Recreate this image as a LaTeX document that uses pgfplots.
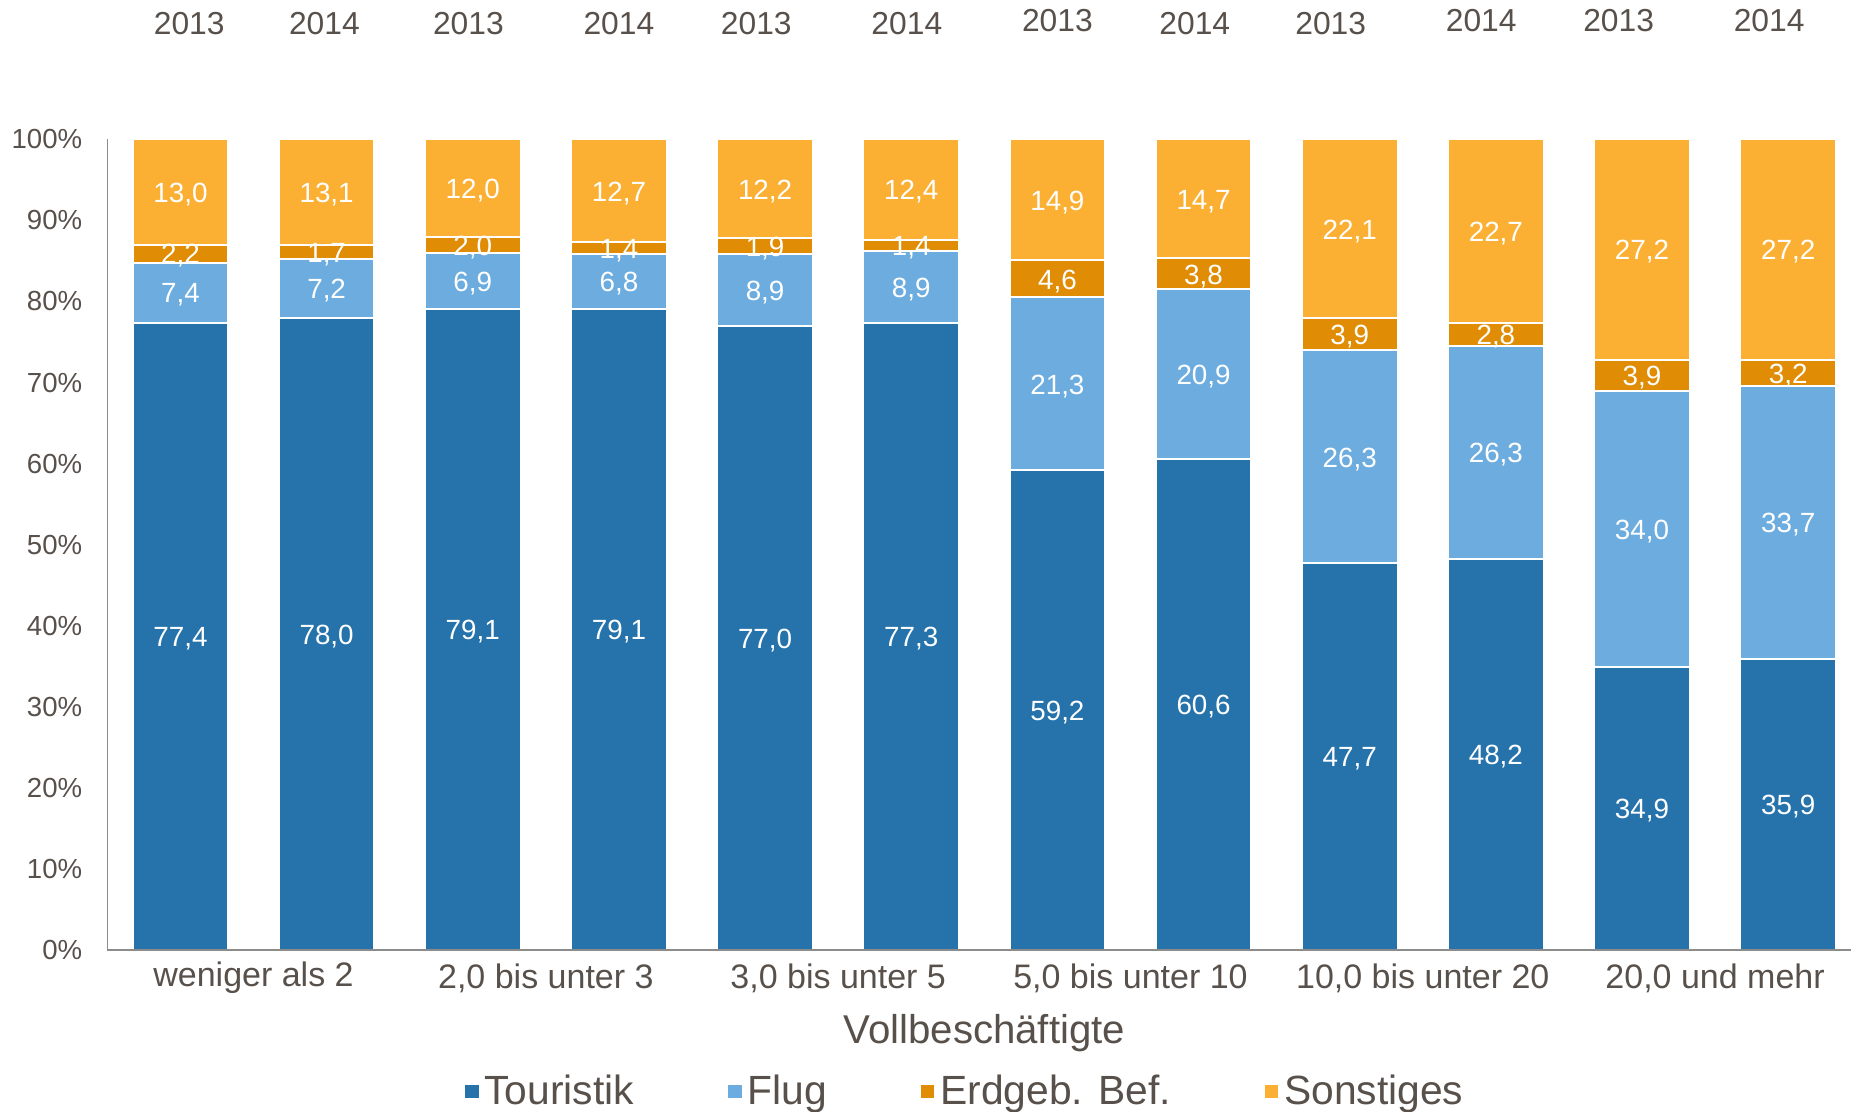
\documentclass[border=0pt]{standalone}
\usepackage{pgfplots}
\pgfplotsset{compat=1.18}
\usepackage{pgfplotstable}
\usepackage{fontspec}
\setmainfont{Liberation Sans}

\definecolor{txtc}{RGB}{88,80,74}
\definecolor{axgray}{RGB}{140,140,140}
\definecolor{cTour}{RGB}{38,115,172}
\definecolor{cFlug}{RGB}{108,172,222}
\definecolor{cErd}{RGB}{224,141,5}
\definecolor{cSon}{RGB}{251,176,52}

% Anteile in Prozent, je Groessenklasse 2013 / 2014
\pgfplotstableread{
x  t    f    e   s
0  77.4 7.4  2.2 13.0
1  78.0 7.2  1.7 13.1
2  79.1 6.9  2.0 12.0
3  79.1 6.8  1.4 12.7
4  77.0 8.9  1.9 12.2
5  77.3 8.9  1.4 12.4
6  59.2 21.3 4.6 14.9
7  60.6 20.9 3.8 14.7
8  47.7 26.3 3.9 22.1
9  48.2 26.3 2.8 22.7
10 34.9 34.0 3.9 27.2
11 35.9 33.7 3.2 27.2
}\data

\tikzset{
  yr/.style={text=txtc, font=\fontsize{15.9bp}{18bp}\selectfont},
  grp/.style={text=txtc, font=\fontsize{17bp}{20bp}\selectfont},
}
\pgfplotsset{
  base/.style={
    at={(0,0)}, anchor=south west, scale only axis,
    width=871.8bp, height=405.35bp,
    xmin=-0.5, xmax=11.43, ymin=0, ymax=100,
  },
}

\begin{document}
\begin{tikzpicture}
\begin{axis}[
    base,
    ybar stacked, bar width=0.654,
    axis on top,
    axis x line=bottom, axis y line=left,
    axis line style={-, draw=axgray, line width=0.8bp},
    xtick=\empty,
    ytick={0,10,...,100},
    yticklabels={0\%,10\%,20\%,30\%,40\%,50\%,60\%,70\%,80\%,90\%,100\%},
    major tick length=0pt,
    yticklabel style={anchor=east, inner sep=0pt, xshift=-12.4bp, text=txtc, font=\fontsize{13.8bp}{16bp}\selectfont},
    legend image code/.code={\fill[#1] (0bp,-3.85bp) rectangle (7.7bp,3.85bp);},
    legend style={at={(0.492,-0.1745)}, anchor=center, draw=none, fill=none,
        legend columns=4, text=txtc, font=\fontsize{20.4bp}{24bp}\selectfont,
        /tikz/every even column/.append style={column sep=44bp}},
    clip=false,
]
\addplot[fill=cTour, draw=white, line width=1bp] table[x=x, y=t] {\data};
\addplot[fill=cFlug, draw=white, line width=1bp] table[x=x, y=f] {\data};
\addplot[fill=cErd, draw=white, line width=1bp] table[x=x, y=e] {\data};
\addplot[fill=cSon, draw=white, line width=1bp] table[x=x, y=s] {\data};
\legend{Touristik, Flug, Erdgeb. Bef., Sonstiges}

\node[yr] at (axis cs:0.06,114.3) {2013};
\node[yr] at (axis cs:0.985,114.3) {2014};
\node[yr] at (axis cs:1.97,114.3) {2013};
\node[yr] at (axis cs:3.00,114.3) {2014};
\node[yr] at (axis cs:3.94,114.3) {2013};
\node[yr] at (axis cs:4.97,114.3) {2014};
\node[yr] at (axis cs:6.00,114.6) {2013};
\node[yr] at (axis cs:6.94,114.3) {2014};
\node[yr] at (axis cs:7.87,114.3) {2013};
\node[yr] at (axis cs:8.90,114.6) {2014};
\node[yr] at (axis cs:9.84,114.6) {2013};
\node[yr] at (axis cs:10.87,114.6) {2014};

\node[grp] at (axis cs:0.5,-3.45) {weniger als 2};
\node[grp] at (axis cs:2.5,-3.45) {2,0 bis unter 3};
\node[grp] at (axis cs:4.5,-3.45) {3,0 bis unter 5};
\node[grp] at (axis cs:6.5,-3.45) {5,0 bis unter 10};
\node[grp] at (axis cs:8.5,-3.45) {10,0 bis unter 20};
\node[grp] at (axis cs:10.5,-3.45) {20,0 und mehr};
\node[text=txtc, font=\fontsize{20.1bp}{24bp}\selectfont] at (axis cs:5.5,-10.3) {Vollbeschäftigte};
\end{axis}

% Wertebeschriftungen in der Mitte jedes Segments
\begin{axis}[
    base, hide axis, clip=false,
    /pgf/number format/use comma,
    /pgf/number format/fixed,
    /pgf/number format/fixed zerofill,
    /pgf/number format/precision=1,
    /pgf/number format/assume math mode=true,
    point meta=explicit,
    nodes near coords,
    nodes near coords style={anchor=center, yshift=-1.2bp, text=white, font=\fontsize{13.9bp}{16bp}\selectfont},
]
\addplot[draw=none, mark=none] table[x=x, y expr=\thisrow{t}/2, meta=t] {\data};
\addplot[draw=none, mark=none] table[x=x, y expr=\thisrow{t}+\thisrow{f}/2, meta=f] {\data};
\addplot[draw=none, mark=none] table[x=x, y expr=\thisrow{t}+\thisrow{f}+\thisrow{e}/2, meta=e] {\data};
\addplot[draw=none, mark=none] table[x=x, y expr=\thisrow{t}+\thisrow{f}+\thisrow{e}+\thisrow{s}/2, meta=s] {\data};
\end{axis}
\pgfresetboundingbox
\useasboundingbox (-53.7bp,-81bp) rectangle (871.8bp,475bp);
\end{tikzpicture}
\end{document}
